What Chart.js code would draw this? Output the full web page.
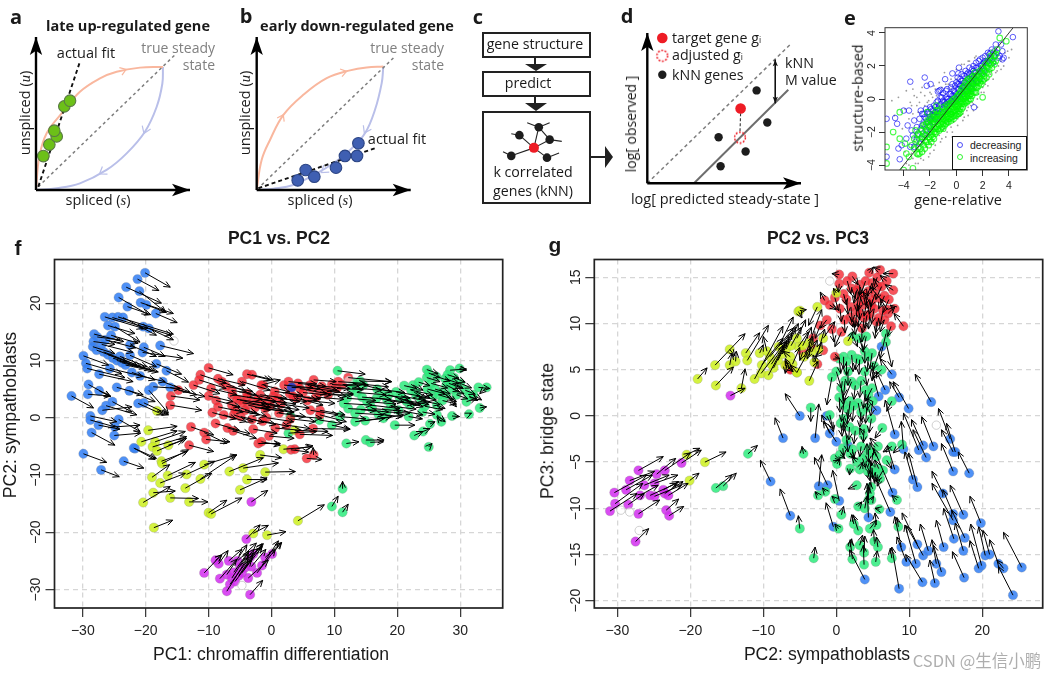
<!DOCTYPE html>
<html>
<head>
<meta charset="utf-8">
<title>RNA velocity figure</title>
<script src="https://cdn.jsdelivr.net/npm/chart.js@4"></script>
<style>
html, body { margin: 0; padding: 0; background: #fff; }
#page { position: relative; width: 1057px; height: 678px; overflow: hidden; }
#page canvas { position: absolute; }
.lbl { position: absolute; white-space: nowrap; transform-origin: center; line-height: 1; z-index: 5; }
.box { position: absolute; box-sizing: border-box; border: 2px solid #222; background: transparent; }
sub { font-size: 60%; vertical-align: -25%; line-height: 0; }
</style>
</head>
<body>
<div id="page"></div>
<script>
// panel a / b : phase portraits (steady state sits at 1,1)
const aUp = [[0,0],[.026,.271],[.084,.461],[.202,.623],[.346,.799],[.504,.908],[.635,.962],[.819,.995],[1,1]];
const aDown = [[1,1],[.995,.864],[.950,.675],[.858,.474],[.714,.298],[.556,.163],[.346,.054],[.163,.014],[0,0]];
const aCells = [[.058,.276],[.105,.369],[.163,.436],[.144,.482],[.223,.680],[.268,.726]];
const aFit = [[.018,.027],[.346,1.043]];
const aDiag = [[.018,.027],[1.094,1.098]];
const bUp = [[0,0],[.039,.243],[.105,.405],[.211,.608],[.368,.770],[.553,.905],[.737,.968],[.868,.992],[1,1]];
const bDown = [[1,1],[.987,.865],[.934,.649],[.855,.459],[.737,.324],[.605,.216],[.474,.135],[.289,.041],[.132,.011],[0,0]];
const bCells = [[.324,.078],[.387,.162],[.455,.108],[.626,.181],[.697,.276],[.792,.276],[.803,.378]];
const bFit = [[.013,.014],[.934,.338]];
const bDiag = [[.039,.041],[1.092,1.081]];

// panel c : kNN network
const cCentre = [[.474,.616]];
const cNeighbours = [[.327,.769],[.523,.865],[.633,.715],[.245,.520],[.606,.498]];
const cEdges = [
  [.474,.616,.327,.769],[.474,.616,.523,.865],[.474,.616,.633,.715],[.474,.616,.245,.520],[.474,.616,.606,.498],
  [.523,.865,.633,.715],[.327,.769,.245,.786],[.523,.865,.406,.918],[.523,.865,.633,.918],
  [.633,.715,.755,.694],[.245,.520,.162,.569],[.606,.498,.728,.555]
];

// panel d
const dKnn = [[1.093,.927],[1.2,.607],[.713,.46],[.983,.317],[.733,.17],[.15,1.083]];
const dTarget = [[.933,.747],[.15,1.45]];
const dAdjusted = [[.927,.457],[.15,1.273]];
const dDiag = [[0,0],[1.427,1.383]];
const dFit = [[.467,0],[1.41,.933]];
const dLink = [[.933,.7],[.927,.517]];

// panel e : x,y pairs
const eDecreasing = [-3.5,1.05,-2.4,1.3,-2.25,.8,-1.95,.9,-.85,1.2,3.2,4.1,4.3,3.75,.2,1.9,-.3,1.55,.15,1.55,1.35,-.5,-4,-.7,-3.6,-.7,-5.3,-1.2,-4.65,-1.15,-4.5,-1.5,-4.4,-3,-4.15,-2.8,-5.3,-3.5,-4.3,-3.65,-3.8,-2.4,-3.7,-1.6,-3.5,-2.9,-3.4,-1.9,-3.3,-2.2,-3.2,-1.3,-3.1,-2.6,-3,-1.7,-2.9,-2.1,-2.8,-1.2,-2.7,-.7,-2.7,-1.8,-2.6,-2.4,-2.5,-.9,-2.5,-1.5,-2.4,-1.1,-2.3,-.6,-2.3,-1.9,-2.2,-1.4,-2.1,-.8,-2.1,-1.1,-2,-.5,-2,-1.6,-1.9,-1.2,-1.8,-.7,-1.8,-1,-1.7,-.4,-1.7,-1.4,-1.6,-.8,-1.5,-.2,-1.5,-1.1,-1.4,.45,-1.4,-.6,-1.3,.5,-1.3,-.9,-1.2,-.3,-1.2,.55,-1.1,-.5,-1.1,.1,-1,-.8,-1,.35,-.9,-.2,-.9,-.6,-.8,.1,-.8,.5,-.7,-.4,-.7,.6,-.6,0,-.6,-.7,-.5,.3,-.5,-.3,-.4,.7,-.4,-.1,-.3,.2,-.3,.9,-.2,-.2,-.2,.5,-.1,.8,-.1,.1,0,1,0,.3,0,-.1,.1,.6,.1,1.3,.2,.2,.2,.9,.3,.5,.3,1.2,.4,.8,.4,1.5,.5,.3,.5,1.1,.6,1.4,.6,.7,.7,1,.7,1.7,.8,.5,.8,1.3,.9,1.6,.9,.9,1,1.2,1,1.9,1.1,.7,1.1,1.5,1.2,1.8,1.2,1,1.3,2,1.3,1.3,1.4,1.6,1.5,2.2,1.5,1.1,1.6,1.9,1.6,1.4,1.7,2.3,1.8,1.7,1.8,2.4,1.9,2,2,2.5,2,1.6,2.1,2.2,2.2,2.6,2.3,1.9,2.4,2.8,2.4,2.3,2.6,2.5,2.7,3,2.8,2.2,3,3.3,3.2,2.5,3.3,2.6,3.4,3.3,3.5,2.4,3.5,2.9,3.6,2.5,2.5,2.7,2.9,2.6];
const eDecreasingCore = [-3.2,-2.9,-3,-2.2,-2.8,-2.7,-2.6,-1.6,-2.6,-.9,-2.4,-2.2,-2.3,-1.2,-2.2,-2.1,-2.2,-.8,-2.1,-1.7,-2,-1.3,-2,-.9,-1.9,-.6,-1.8,-1.4,-1.7,-1,-1.6,-.5,-1.6,-1.2,-1.5,-.8,-1.4,-.1,-1.3,-.4,-1.2,-.8,-1.2,.1,-1,-.1,-.9,-.4,-.8,-.3,-.7,0,-.7,-.2,-.5,-.1,-.4,.3,-.3,-.2,-.2,.2,-.1,.4,0,0,.1,.1,.1,.9,.2,.6,.3,.1,.3,.8,.4,.4,.4,1.1,.5,.7,.6,.2,.6,1,.7,.5,.8,.8,.8,1.5,.9,.4,.9,1.2,1,.7,1,1.5,1.1,1.1,1.2,.6,1.2,1.4,1.3,.9,1.3,1.7,1.4,1.2,1.5,1.6,1.5,1.9,1.6,1.1,1.7,1.8,1.8,1.2,1.9,1.6,2,2.1,2.1,1.7,2.2,2.3,2.3,2.2,2.5,2.4,2.6,2.8,2.7,2.4,2.9,2.9,3.1,2.8];
const eIncreasing = [-3.3,-4.2,-4,-4.3,-5.3,-3.9,-5.3,-2.9,-4.8,-2,-4.3,-.8,2,.1,3.8,3.5,3.3,3.7,-2.9,-3.35,-3.4,-2.8,-3.2,-3,-3,-2.5,-2.9,-2.9,-2.8,-2.2,-2.7,-3,-2.7,-2.6,-2.6,-2.3,-2.6,-1.9,-2.5,-2.8,-2.5,-2.1,-2.4,-2.5,-2.4,-1.7,-2.3,-2.2,-2.3,-1.5,-2.2,-2.6,-2.2,-1.9,-2.1,-1.4,-2.1,-2.3,-2,-2,-2,-1.6,-1.9,-1.3,-1.9,-1.8,-1.9,-2.2,-1.8,-1.5,-1.8,-1.9,-1.7,-1.2,-1.7,-1.7,-1.7,-2,-1.6,-1.4,-1.6,-1.8,-1.5,-1,-1.5,-1.3,-1.5,-1.7,-1.4,-1.2,-1.4,-1.5,-1.4,-.9,-1.3,-1.3,-1.3,-1.6,-1.2,-1,-1.2,-1.2,-1.2,-1.5,-1.1,-.8,-1.1,-1.1,-1.1,-1.4,-1,-.9,-1,-1.2,-1,-1.5,-.9,-.7,-.9,-1,-.9,-1.3,-.8,-.8,-.8,-1.1,-.8,-1.3,-.7,-.5,-.7,-.9,-.7,-1.1,-.6,-.7,-.6,-1,-.6,-1.2,-.5,-.4,-.5,-.7,-.5,-.9,-.4,-.6,-.4,-.9,-.4,-1.1,-.3,-.3,-.3,-.6,-.3,-.8,-.2,-.5,-.2,-.7,-.2,-1,-.1,-.2,-.1,-.4,-.1,-.7,0,-.3,0,-.5,0,-.8,.1,-.1,.1,-.4,.1,-.6,.2,-.2,.2,-.4,.2,-.7,.3,0,.3,-.2,.3,-.5,.4,-.1,.4,-.3,.4,.2,.5,.1,.5,-.2,.5,.3,.6,0,.6,.2,.6,.5,.7,.1,.7,.4,.7,-.1,.8,.3,.8,.6,.8,.1,.9,.2,.9,.5,.9,.8,1,.4,1,.7,1,.2,1.1,.3,1.1,.6,1.1,.9,1.2,.5,1.2,.8,1.2,1.1,1.3,.4,1.3,.7,1.3,1,1.4,.8,1.4,1.2,1.5,.7,1.5,1,1.5,1.4,1.6,1,1.6,1.3,1.7,1.1,1.7,1.5,1.8,1.3,1.8,1.7,1.9,1.2,1.9,1.6,2,1.5,2,1.9,2.1,1.4,2.1,1.8,2.2,1.7,2.2,2.1,2.3,1.6,2.3,2,2.4,1.9,2.4,2.3,2.5,1.8,2.5,2.2,2.6,2.1,2.6,2.6,2.7,2.4,2.8,2.3,2.8,2.8,2.9,2.6,3,2.7,3.1,3,-3.6,-3.5,-3.8,-3.3,-3.9,-2.7,-4.3,-2.4,-3.1,-1.9,-2.2,-.8,-1.5,-.4];
const eIncreasingWide = [-3.2,-2.4,-3,-3.3,-2.9,-2.1,-2.8,-3.3,-2.6,-3.2,-2.5,-1.6,-2.4,-3,-2.3,-2.6,-2.2,-1.3,-2.1,-2.8,-2,-1.2,-2,-2.4,-1.9,-2.6,-1.8,-1.1,-1.8,-2.3,-1.7,-.9,-1.7,-2.4,-1.6,-2.1,-1.6,-1,-1.5,-2,-1.5,-.7,-1.4,-1.8,-1.3,-.7,-1.3,-1.9,-1.2,-1.8,-1.1,-1.7,-1,-.5,-1,-1.8,-.9,-1.6,-.8,-.4,-.8,-1.5,-.7,-1.4,-.6,-.3,-.6,-1.4,-.5,-1.2,-.4,-.2,-.4,-1.3,-.3,-1.1,-.3,-.1,-.2,-1.2,-.2,0,-.1,-1,0,.1,0,-1,.1,.2,.1,-.9,.2,.3,.2,-.9,.3,.4,.3,-.8,.4,.6,.4,-.6,.5,.7,.5,-.5,.6,.8,.6,-.3,.7,1,.7,-.2,.8,1.1,.8,-.2,.9,1.2,.9,-.1,1,1.1,1,0,1.1,1.3,1.1,0,1.2,.2,1.3,1.4,1.4,.4,1.4,1.6,1.5,.4,1.6,.7,1.7,.8,1.8,1,1.9,.9,2,1.1,2.1,1.2,2.3,1.3,2.5,1.5,2.7,1.9,2.9,2.1,3,2.3];
const eOther = [-4.9,-.1,-4.4,.1,-3.8,.5,-3.5,-.2,-3.3,.6,-3,.1,-2.7,.4,-2.4,.2,-2,.4,-1.7,.8,-1.3,1,-.9,1.6,-.4,1.2,-4.7,-1,-4.1,-1.8,-3.9,-.6,-3.6,-1.2,-3.3,-.9,-3,-.4,-2.8,-.2,-2.4,-.4,-2.1,-.1,-1.8,.1,-1.5,.2,-1.1,.7,-.6,.9,-3.9,-3.2,-3.6,-4,-3.3,-3.6,-3.1,-3.9,-2.7,-3.6,-2.4,-3.2,-2.2,-2.9,-2,-3.3,-1.8,-2.5,-1.6,-2.8,-1.3,-2.2,-1.1,-2.4,-.9,-1.8,-.7,-2,-.4,-1.7,-.2,-1.4,.1,-1.2,.3,-1,.6,-1.1,.8,-.7,1.1,-.4,1.3,-.3,1.6,0,1.9,.4,2.2,.9,2.4,1.2,2.7,1.7,2.9,2.1,3.2,2,3.6,2,3.9,2.9,1.5,2.6,.9,2.3,.4,2.1,0,1.8,2.3,1.1,2.6,1.5,3,1.6,3.4,1.8,4,2.5,4.2,3,-.2,-1,-.6,-1.5,-1,-1.9,-1.4,-2,-1.9,-2.7,-.3,-2,.5,-.9,.9,-.5,1.2,-.2,1.7,.3,2,.7,-3.4,-.4,-3.2,.2,-2.9,-.8,-2.6,.7,-2.2,-.2,-1.9,.3,-1.6,.6,-1.2,.3,-.8,.9,-.4,.6,0,1.2,.4,1.8,.6,2.1,1,2.3,1.4,2.5,-3.8,-3.9,-3.4,-3.3,-2.9,-3.9,-2.5,-3.7,-2.1,-3.5,-1.7,-3.1,-1.2,-2.6,-.8,-2.3,-.3,-2.3,.1,-1.6,.5,-1.3,.9,-1,1.3,-.7,1.6,-.5,2.1,.4,2.4,.8,2.8,1.2,3.1,1.7,3.4,2.3,3.7,2.8];

const eXTicks = [-4,-2,0,2,4];
const eYTicks = [-4,-2,0,2,4];

// panels f / g : arrow tail x, tail y, head x, head y
const fXTicks = [-30,-20,-10,0,10,20,30];
const fYTicks = [-30,-20,-10,0,10,20];
const fBlue = [[-20.1,25.3,-16.1,22.8],[-21.3,24.2,-17.9,22.2],[-23.1,22.8,-17.5,20],[-21,22.1,-16.8,18.4],[-24.3,21,-19.6,18],[-22.9,19.4,-19.2,18],[-20.8,20.1,-15.6,18.2],[-19.9,19.7,-16.7,18.4],[-18.4,18.2,-15,16.6],[-26.5,17.6,-20.4,15.6],[-25.3,17.5,-19.6,15.6],[-24.4,17.6,-15.6,14.6],[-23.6,17.5,-18.3,14.4],[-26,16.1,-21.7,14.7],[-24.9,15.9,-20.9,13.2],[-20.4,15.9,-15.9,14.4],[-19.5,15.6,-15.6,13.6],[-28.2,14.6,-23.5,13.3],[-27.7,14.1,-24.1,13.6],[-25.5,14.4,-21.2,13],[-28.3,13.3,-24.9,12.8],[-28.4,12.4,-24.9,11.2],[-22.5,12.7,-18.3,10.7],[-20.3,12.3,-16.9,10.7],[-17.7,12.6,-12.4,11.2],[-20.5,11.4,-14.1,10.4],[-29.9,10.8,-25.9,9.2],[-27.8,11.8,-23,9.8],[-26.7,11.5,-21.4,9.2],[-24.1,10.7,-19.8,8.9],[-22.5,10.9,-18.3,8.9],[-29.5,9.5,-23.8,7.7],[-29.3,8.6,-23.3,7],[-27.4,7.6,-22,6.3],[-25.7,8.6,-20.4,7.2],[-22.2,7.9,-18.5,6.6],[-20.9,7.3,-16.9,6.3],[-18.3,9.4,-14.3,7.6],[-16.7,8.2,-13.2,6.2],[-29.1,5.8,-25.6,3.7],[-27.4,4.7,-25.6,3.7],[-29.2,4.1,-25.6,3.8],[-24.6,5.3,-20.4,4],[-22.6,4.7,-18.5,2.8],[-17.3,6.3,-13,4.5],[-16.1,5.3,-11.9,4],[-18.8,5.4,-14.5,5.1],[-19.5,4.8,-16.4,.8],[-31.8,3.8,-28.3,1.7],[-21.2,2.5,-17.2,.5],[-20.3,2.6,-16.4,.6],[-25.3,2.8,-22.2,1],[-26.3,2.1,-21.4,.5],[-26.9,1.3,-22.2,1.9],[-28.8,.3,-24.6,-.7],[-28.8,-.4,-24.9,-1.6],[-27.5,-1.3,-24.1,-2],[-24.3,-.3,-20.9,-2.4],[-24.9,-1.6,-20.9,-1.3],[-28.6,-2.6,-24.9,-4.8],[-25,-3.1,-20.8,-2.7],[-21.7,-5.4,-18.3,-7.1],[-29.9,-6.3,-26.2,-7.8],[-27.1,-9.1,-24.2,-10.3],[-23.5,-7.6,-20.3,-8.8],[-21.9,-5.3,-18.5,-7.3]];
const fBlueCore = [[-26,11,-20.8,9],[-25.2,10.4,-20,8.6],[-24.6,10,-19.2,8.4],[-23.8,9.6,-18.6,8.2],[-23.2,9.2,-18,8],[-27,12.8,-22,11.4],[-26.4,13.6,-21.6,12.2]];
const fYellow = [[-18.2,1.2,-16.4,.5],[-19.6,-2.2,-15,-1.5],[-20.7,-4.2,-15,-2.3],[-18.5,-4.2,-13.7,-2.4],[-18.9,-5.1,-13.5,-3.3],[-16.4,-4.8,-14,-3.9],[-18.2,-5.8,-13.5,-3.6],[-17.5,-7.6,-13.4,-5.9],[-17.4,-8,-13.2,-5.6],[-10.7,-8.2,-5.5,-6.5],[-16.5,-10.1,-12.1,-7.8],[-19,-10.4,-16.2,-8.2],[-17.7,-11.4,-13.7,-9.7],[-13.5,-9.9,-9,-7.6],[-11.3,-10.7,-5.6,-6.5],[-13.7,-12.3,-9.5,-9.7],[-6.7,-9.4,-1.3,-7],[-4.5,-8.8,1.1,-7.9],[-1,-9.5,3.8,-9.4],[-3.9,-10.8,-.7,-10.8],[-5,-12.6,-.7,-10.5],[-18.8,-13.1,-15.3,-12.8],[-20.4,-14.8,-16.1,-12],[-16.1,-14,-11.6,-14.1],[-13.1,-14.7,-10.1,-14.7],[-10,-16.6,-7.1,-14.4],[-9.6,-16.8,-4.7,-14],[-18.7,-19.2,-15.7,-17.9],[4.2,-18,8.4,-15.2],[-1.8,-6.5,1.6,-7],[-2.9,-20.2,-.5,-18.8],[-.7,-20.5,2.3,-19.9],[1.9,-5.5,6.4,-5.1],[3.7,-2.2,9,-2.4]];
const fPurple = [[-10.7,-27.1,-7.9,-23.9],[-8.4,-25.5,-6.9,-23.2],[-8.9,-24.9,-7.9,-24],[-3.2,-14.7,-.6,-12.7],[-4,-21.2,-1.8,-18.7],[-3.4,-30.9,-1.4,-28.4],[-7.1,-30.3,-3.7,-24.3],[-8.2,-28.1,-5.5,-24.7],[-6.8,-25,-4.7,-23],[-7.1,-27.4,-3.9,-22.2],[-6.6,-29.1,-2.9,-23.6],[-5.4,-25,-2.4,-21.9],[-4.2,-26.2,-1.5,-22],[-3.7,-28,-.5,-24.9],[-2.3,-27.1,.6,-23],[-1.5,-25.8,1.1,-21.5],[-2.9,-23.8,-1.3,-22],[-1,-24.4,1.6,-21.8],[.1,-23.8,1.6,-21.8],[-3.4,-24.4,-1.8,-22.7],[-4.7,-27.1,-1.5,-22.5],[-6.3,-28,-3.7,-23.6],[-6,-27,-3.6,-23.3],[-5.2,-27.6,-3,-24],[-5.8,-28.6,-3.2,-24.8],[-5,-26,-2.8,-23],[-3.2,-26,-.9,-23]];
const fRed = [[-10,8.7,-6.1,7.5],[-11.3,7.5,-7.2,6],[-11.5,6.6,-7.2,5.1],[-12.4,5.7,-8.2,4.2],[-14.8,4.8,-10.6,3.7],[-16,3.8,-11.4,3.1],[-16.1,2.2,-11.1,1.3],[-10,3.8,-6.1,2.8],[-9.6,5.1,-5.5,4],[-7.9,6.3,-4,4.5],[-8.8,3,-5,1.9],[-8.5,1.9,-4.5,1],[-6.3,4.8,-2.4,4],[-6.3,2.2,-2.4,.8],[-4.7,6.3,-.2,4.8],[-3.9,7.6,-.2,6.6],[-3.1,7.5,.3,6.6],[-3.9,4.2,-.2,3.4],[-5,3.1,-.8,1.9],[-3.7,2.2,-.2,1.3],[-7.6,.5,-4,-.7],[-6,.5,-2.9,-.7],[-4.2,1.3,-.8,.2],[-1.3,5.7,2.9,4.5],[-12.8,-1.6,-9.2,-3],[-10.7,-2.6,-7.1,-4.5],[-10.4,-3.8,-6.6,-4.2],[-6.1,-2.3,-2.4,-3.6],[-13.1,-4.8,-9.2,-5.9],[-2.1,-4.5,1.4,-4.5],[5.6,-7.1,8,-7.3],[6.7,-6.5,6.6,-5.2],[3.1,-5.6,5.9,-6],[-1.6,5.7,1.4,6.6],[-1.8,4,2.4,3.4],[.3,3.7,4.5,2.8],[-.8,1.9,3.5,1],[6.7,6.6,10.3,6.3],[12.2,7,19.1,6.3],[6.1,5.7,10.4,4.8],[4.5,5.1,8.8,4.2],[7.7,4.5,11.9,3.7],[9,4,13,4],[11.3,5.8,15.4,5.7],[2.9,4.2,7.2,3.1],[4,3.4,8.2,2.2],[6.2,1.3,10.6,.5],[7.7,1.3,11.7,.5],[2.4,-1.3,6.1,-1.9],[-.8,0,3.5,-.7],[4.5,-2.9,9.7,-3.1],[7.7,.5,11.9,-.7],[6.6,-1.9,12.5,-2],[-1.6,-4.2,1.4,-4.8],[3.7,-5.5,6.6,-4.9]];
const fRedCore = [[-8.5,6.8,-4.2,5.7],[-7.2,5.5,-3,4.6],[-6.2,4,-1.5,3.2],[-5.5,3.2,-.8,2.5],[-4.6,2.6,-.2,1.9],[-3.9,3.6,.8,2.8],[-3,2.9,1.3,2.1],[-2.6,1.8,1.9,1.1],[-2.1,3.3,2.4,2.6],[-1.6,2.5,3,1.7],[-1,1.6,3.6,.9],[-.6,3,3.9,2.4],[-.2,2.1,4.4,1.4],[.5,4.6,5,3.9],[1,3.4,5.6,2.8],[1.5,2.4,6,1.7],[2,5.7,6.6,5.2],[2.7,6.3,7.2,5.9],[3.4,3.8,7.8,3.3],[4.2,6,8.6,5.5],[5,4.4,9.4,3.9],[5.7,3,10.1,2.5],[6.4,5.1,10.8,4.6],[7.1,3.6,11.5,3.2],[8,5.5,12.5,5.1],[8.8,4.6,13,4.2],[9.6,5.8,13.9,5.5],[10.4,5.1,14.6,4.9],[-5.8,1.4,-1.9,.5],[-4.9,.2,-1.2,-.8],[-3.1,-.3,.7,-1.2],[-1.4,-.6,2.7,-1.5],[.6,-1.8,4.7,-2.2],[1.2,.8,5.4,.2],[3,-.2,7,-.7],[-8.9,-1,-5.1,-2.2],[-7,-1.8,-3.4,-2.8],[-2.9,-2,.9,-2.7],[-.4,-3.2,3.6,-3.6],[10.6,6.3,14.9,6],[-9.4,.9,-5.6,-.2]];
const fDarkBlue = [[3.2,5.3,7.7,5.1]];
const fGreen = [[10.5,8.2,14.9,7.6],[14.1,6.4,19.1,6.3],[13,6,18.6,5.4],[14.6,5.7,19.1,4.5],[12.2,1.6,16.7,1.3],[13.3,.8,17.8,.5],[13.3,-.7,18,-.1],[14.9,-.5,19.1,.2],[19.6,-1.3,22.8,-1.3],[3,.3,8,-.1],[7.6,-.4,11.2,-1],[9.6,-1.3,12.5,-2],[2.7,-2.7,7.2,-2.4],[11.9,-4.5,13.9,-4.2],[15,-3.9,17.9,-3.9],[15.7,-4.3,17.8,-4.2],[22.7,-3.1,24.1,-2.4],[24.1,-2.4,25.2,-1.9],[25,-5.1,25.5,-4.5],[25.2,-1.1,26,-.7],[24.7,8.4,26.5,7.7],[28.4,8.3,31,8.5],[29.9,8.6,31,8.3],[24.7,7,26.8,6.3],[21.1,5.6,23.1,5.1],[22.5,5.7,24.1,4.8],[32.9,5.3,34.7,5.1],[34.2,5.3,33.1,4.2],[33.1,1.7,34.2,1.9],[31.4,.6,31.8,.8],[28.7,.3,29.9,.2],[26.3,2.2,27.6,1.6],[26.3,.5,27.6,-.7],[27,-.7,26.3,.2],[31,2.8,32.6,3.4],[32.1,4,33.4,3.1],[27.8,5.7,29.9,4.5],[28.9,6,30.5,5.1],[27,4.5,29.4,2.8],[27.8,4,29.4,1.9],[25.7,4,23.4,3.4],[23,4.5,25.2,3.4],[21.5,2.8,24.1,1.9],[20.4,3.4,23.6,2.2],[18.6,4,22,2.8],[16.7,3.4,21,2.8],[15.7,2.2,20.4,1.6],[18.3,1,22,.8],[20.2,1.3,24.1,.5],[17.8,-.1,21,.5],[22,2.2,25.2,2.8],[11.3,-12.4,11.3,-11.1],[9.6,-15.5,10.6,-13.7],[11.3,-16.5,12.2,-15.1]];
const fGreenCore = [[12.8,5.2,17.5,4.8],[13.6,4.4,18.2,4],[14.4,3.6,19,3.2],[12,3.4,16.6,3],[11.5,2.5,16,2.2],[15.2,2.8,19.8,2.4],[16,1.6,20.5,1.2],[16.8,5,21.2,4.4],[17.6,4,22,3.4],[18.4,3,22.6,2.4],[19,2,23,1.5],[19.8,4.5,23.6,3.8],[20.6,3.8,24.4,3],[21.4,3,25,2.3],[22.2,4.8,25.6,4],[23,3.9,26.2,3.1],[23.8,3,26.8,2.3],[24.4,2,27.2,1.4],[24.8,5,27.6,4.2],[25.4,6,28,5.2],[26,5,28.4,4.2],[26.6,4,29,3.2],[27.2,3,29.4,2.4],[27.6,6.8,29.8,6],[28.2,6,30.2,5.2],[28.8,5,30.6,4.2],[29.4,4,31.2,3.3],[26.2,7.2,28.4,6.4],[28,7.5,29.8,6.9],[29,7,30.8,6.2],[30,6,31.8,5.2],[30.8,4.8,32.4,4.1],[31.4,3.8,32.8,3],[25,7.8,26.8,7],[23.4,6.2,25.2,5.6],[24,1,26,.6],[21.8,.2,24,-.2],[17,.6,20.8,.2],[14.2,1.4,18.6,1],[10.9,.2,15,-.2]];
const fOpen = [[-15.5,13.4],[-4.7,-29.3],[12.3,6.5]];

const gXTicks = [-30,-20,-10,0,10,20];
const gYTicks = [-20,-15,-10,-5,0,5,10,15];
const gYellow = [[-19,4,-17.7,5.2],[-16.6,5.5,-12.5,8.9],[-14.6,5.5,-14.3,6.8],[-14.6,7.2,-13.9,6.5],[-16.5,3.3,-14.1,5.3],[-13.8,5.9,-13.7,7],[-13,3,-12.5,5.1],[-12.4,6.8,-10.5,9],[-12.2,6,-9.3,9.8],[-11.2,4,-7.3,9.7],[-10.2,5.5,-7.3,8.4],[-10.3,4.6,-7,8],[-9.3,4.4,-6.8,8.2],[-9.1,6.4,-5.9,9.5],[-7.9,7.5,-5.9,10.7],[-6.3,6.4,-7.3,7],[-7,5.5,-5.9,4.8],[-5.4,4.7,-6.3,5.5],[-5.2,11.3,-4.7,10.6],[-10.5,6.8,-10,7.7],[-9.5,7,-10,8.6],[-5,11.4,-4.1,11.5],[-2.6,11.8,-3.8,9.8],[-3.7,3.8,-2.5,5.9],[-5.4,4.7,-3.6,7.3],[-5.2,7.5,-3.8,9.1],[-3.7,7.9,-2,11.5],[-1.8,8.4,-.2,10.2],[1.6,8.1,2.3,9.1],[0,13.3,-.4,13.8],[-18,-5,-15.1,-3.9],[-20.1,-7,-18.8,-6.2],[-20.5,-4.2,-18.7,-3.5]];
const gYellowCore = [[-8.6,5.2,-6.5,8.6],[-8,6,-6.1,9],[-7.4,6.7,-5.6,9.6],[-6.9,7.2,-5.2,10],[-8.9,5.6,-7.2,7.6],[-6.2,7.6,-4.8,9.6],[-5.4,8.4,-4.2,10.4],[-4.6,7.6,-3.4,9.6],[-4.4,6.4,-3.2,8.6],[-3,5.8,-2,8],[-2.4,7.2,-1.6,9.4],[-6,5.6,-5,7.4],[-3.4,6.9,-2.6,8.2]];
const gPurple = [[-14.5,2.2,-12.5,3],[-27.5,-13.6,-25.7,-12.2],[-31,-10.3,-27.3,-8.4],[-30.3,-9.5,-26.5,-7.3],[-30.4,-8.3,-26,-6.4],[-27.1,-5.9,-23.7,-4.4],[-24.6,-6.3,-22,-4.6],[-23.5,-5.9,-20,-4],[-21.2,-5.1,-18.5,-3.7],[-28.3,-7,-24.9,-6],[-28.8,-8,-25.2,-6.4],[-26.3,-7.5,-22.9,-6.4],[-24.9,-7.3,-21.7,-6.4],[-23.5,-8.4,-21,-7.1],[-23,-8.6,-20.3,-7.3],[-25.5,-8.6,-21.9,-7.3],[-24.9,-8.7,-21.2,-7.5],[-26.9,-8.6,-24.4,-7.5],[-28.5,-9.6,-26.3,-8.4],[-27.1,-10.6,-24.2,-9.1],[-23.3,-10.2,-21.6,-9],[-22.9,-10.8,-20.9,-9.8],[-23.7,-8,-21.6,-7.1]];
const gBlue = [[-9,-7.1,-10.4,-4.8],[-6.3,-10.8,-7.7,-7.9],[-2.4,-7.6,-2,-4.2],[-1.2,-7.5,-3,-4.5],[.4,-9.2,-.5,-5.9],[-.4,-12,-1.4,-9.4],[3.9,-17.7,1.8,-14.5],[8.6,-18.7,7.6,-14.2],[9.6,-15.8,8.3,-13.1],[8.9,-14.2,8,-10.9],[10.9,-16,9.4,-11.8],[11.8,-18,9.5,-15],[11.1,-13.9,9,-10.5],[11.9,-15.1,9.6,-11.9],[12.6,-14.6,11.5,-11.7],[13.5,-18.1,12.8,-15.6],[13.7,-16,13.1,-13.4],[14.4,-16.9,13.3,-14],[14.7,-14.2,13.7,-11.3],[17.5,-17.5,15.9,-14.7],[17.4,-14.6,16.3,-11.6],[16.1,-13.3,14.7,-10],[17.6,-13.2,15.8,-10.2],[16,-11.3,13.1,-7.3],[16,-10.6,14.6,-8],[17.4,-10.7,15.6,-7.5],[19.8,-11.6,18.3,-8.7],[19.5,-16.5,18.3,-13.5],[19.9,-16.2,18.4,-11.7],[20.4,-15.1,19.5,-12],[21,-15,20.1,-12.4],[22.2,-16,21,-13.4],[22.9,-16.5,22,-15.6],[24.2,-19.4,22.2,-16.3],[25.4,-16.4,22.9,-12.6],[14.6,-8.4,13.1,-6],[10.5,-6.9,9.4,-3.9],[11.1,-7.7,9.9,-4],[8,-5.8,7,-3.2],[7.7,-8.3,5.1,-3.5],[7.4,-10.4,5.3,-6.6],[16,-6,14.4,-3],[18.2,-6.2,16.7,-3.9],[12.3,-4.5,10.5,-1.5],[16,-3.9,14.4,-1.5],[4.4,-11,4.2,-7.3],[13,1.5,10.8,4.5],[-5,0,-7,2.4],[-2.9,-2.4,-2.4,1.3],[8,-2,6.7,1.7],[9.9,.8,7.8,3.7],[7.6,4.5,6,6.2],[6.7,2.8,5.5,4.8],[8.6,2,7.3,3.7],[5.8,2.1,4.8,5.1],[15.6,-2.5,14,.8],[16.3,-3.9,15.1,-.8],[13.3,-3.3,11.7,-.1],[11.9,-3.2,10.3,-.4],[11.3,-3.7,9.2,.3],[9.2,-3.6,8.9,-.6],[5.5,.6,4.1,1.9],[-.9,-1.9,-2,.1],[0,-2.8,-1.8,-.6],[1.6,-3.2,1,-.6],[-1.3,0,-.4,-1.4],[-7.3,-2.4,-8.4,-.2],[6.2,7.5,5,5]];
const gGreen = [[-16.5,-7.8,-14.3,-6.4],[-15.5,-7.6,-13.7,-6.2],[-12.1,-4.1,-10.8,-3.2],[-5,-12.2,-5.2,-10.8],[-3.1,-15.4,-2.9,-14.2],[-4.5,-4.1,-4.7,-3.3],[-3.5,.9,-3.5,-.6],[6.8,8.9,6,6.2],[6.8,8,7.6,5.3],[2.3,8.6,2.9,7.5],[3.2,8.4,3.7,6.9],[4.1,8.6,3.7,7.1],[3.9,7,3.9,5.7],[4.9,6.8,4.6,5.1],[2.1,6.6,2.3,4.8],[1,6.4,1,5.1],[2.8,6.2,2.6,5],[0,4.8,.7,3],[1.6,4.8,1.6,3.3],[3.9,4.8,4.2,3.3],[6.2,5,5,4.1],[-.6,4.2,-1.3,1.2],[2.1,3.7,1,1.6],[.7,3,1,1.2],[4.9,3,4,1.6],[4,2.8,3.7,.8],[7.6,1.6,6.9,.5],[1.9,1.6,1.6,-.3],[1,1.2,.7,-.6],[3,1.4,3.5,-.6],[-.9,.1,-.4,-1.7],[1,-.3,1,-1.7],[6.3,-1.3,5.3,-2.4],[3.7,-2.1,3.2,-1.3],[1.4,-2.6,1.6,-3.9],[5.7,-3.3,4.6,-2.4],[7.6,-3.3,6.4,-3.9],[9,-3.1,7.8,-4],[-2.5,-8.6,-2.9,-8.2],[-1.5,-8.2,-1.9,-7.8],[-.2,-9,-.6,-8.7],[.3,-12.2,-.2,-11.7],[.7,-10.7,1,-9.8],[3,-12.4,2.3,-10.7],[2.4,-11.7,2.1,-10.7],[1.9,-14.2,2.1,-13.3],[2.2,-15.5,1.9,-13.4],[3.8,-16.1,3.7,-14],[3.2,-14,3.6,-12.9],[3.8,-14.8,3.9,-13],[5.4,-15.8,5.6,-14.6],[5.2,-13.6,5.1,-12.3],[5.7,-14.2,5.5,-13.1],[4.6,-12.2,5.5,-11.3],[5.5,-11.8,5.3,-10.5],[5.9,-10.1,5.3,-10],[4.4,-9.1,4.4,-7.7],[4.8,-9.1,5.1,-8.7],[3,-9.8,3.5,-9.3],[3.9,-10,4.2,-8.7],[7.6,-15.4,7.4,-14.3],[8.5,-12,8.3,-11],[8.3,-9.1,7.6,-8.6],[4.8,-7.7,4.6,-5.9],[2.8,-7.5,1.6,-7.9],[1.9,-5.7,1.8,-6.4],[-.2,-4.6,.5,-4.8],[.5,-4.2,1.2,-4.6],[1.9,-4.1,2.6,-4.6],[2.8,-5,2.1,-4.4],[5.5,-4.4,4.6,-2.9],[4.8,-6.2,4.6,-4.8],[5.8,-5.7,5.3,-4.8],[6.4,-5.9,5.5,-7.1],[6.9,-4.8,7.6,-5.7],[4.2,-4.2,4.2,-3]];
const gGreenCore = [[.4,6.2,.6,4.6],[1.4,5.9,1.4,4.4],[3.2,6.1,3.1,4.5],[4.4,6.4,4.2,4.8],[5.2,5.4,4.9,3.8],[1.2,3.8,1,2.2],[2.6,3.3,2.4,1.8],[3.4,3.8,3.2,2],[4.4,2.3,4.2,.6],[5,1.6,4.7,0],[.4,2,.5,.4],[1.6,.7,1.5,-.9],[2.4,1.1,2.2,-.6],[3.4,.4,3.2,-1.2],[4.2,.9,4,-.8],[4.8,-.3,4.5,-1.8],[.6,-.8,.8,-2.2],[1.8,-1.2,1.7,-2.6],[2.6,-1.6,2.4,-3],[3.8,-1.4,3.7,-2.9],[.9,-3.5,1,-4.4],[2.2,-3.6,2.4,-4.6],[3.4,-3.3,3.2,-4.4],[4.4,-3.6,4.4,-5],[5,-4,4.8,-5.4],[3.6,-4.6,4,-5.6],[4.1,-5.2,4.6,-6.2],[4.9,-5.6,5,-6.8],[5.4,-6.1,5.2,-7.2],[4.3,-6,4.6,-7],[.1,-5.2,.5,-4.6],[3.2,-5.8,3.6,-5],[6,-6.8,5.6,-7.6],[4.6,-8.4,4.6,-7.2]];
const gRed = [[9.2,9.7,7.9,11.1],[7.8,15.4,6.4,15.4],[4.5,15.5,5.1,16.1],[6,15.8,5.1,16.1],[.4,15.3,-.6,15.4],[2.2,15.1,3,14.2],[.4,14.3,.3,13.4],[-1.6,12.5,-2.2,13.4],[7.8,13.6,6.7,14.2],[8,11.6,7.4,12],[7.1,11.1,8,11.8],[6,12.7,4.6,14],[2.1,13.8,2.6,12.7],[3.2,14.2,3.2,13.1],[5.7,14,5.1,14.9],[6.9,14.6,6,15.2],[4.8,12,3.7,13.4],[3.7,12,3,13.4],[3,12.9,2.8,11.3],[1.9,10.7,2.3,9.6],[.5,11.6,.7,10.2],[-.9,12,0,11.5],[.7,9.1,-.2,7.5],[-1.3,10.4,-2.2,9.5],[2.8,11.3,2.6,9.6],[4.2,10.9,3.9,9.5],[5.5,10.2,5.3,8.4],[6.6,10.4,6,9.1],[3.9,13.1,4.4,11.6],[7,11.5,6,12.7],[3.5,9.5,3.5,8],[-1.8,7.1,-2.9,6.4],[-.2,6.4,.5,6.2],[-6.3,5.1,-7,5.9],[-2.2,9.8,-2.9,8.4],[-6.8,5.5,-7,4.6],[-6.3,5,-7,6.2]];
const gRedCore = [[1.5,14.6,2,13.2],[2.8,13.6,2.4,12.2],[3.4,13,3,11.4],[4,14.6,3.4,13.2],[4.4,13.5,4,12],[4.9,14.4,4.2,13],[5.3,13.2,4.7,11.8],[5.6,15,5,13.6],[6.2,14,5.4,12.6],[6.6,13,5.8,11.6],[7.2,12.6,6.4,11.2],[1.4,12.6,1.6,11],[2,11.8,2.2,10.2],[3.2,11.1,3,9.6],[3.8,10.6,3.6,9],[4.6,11,4.4,9.4],[5.2,11.6,4.8,10],[5.8,10.6,5.4,9],[6.4,11.4,6,9.8],[1,13.2,1.4,12],[-.2,12.8,.3,11.4],[1.1,10.4,1.2,9],[2.4,10.2,2.6,8.8],[7.5,9.7,7,8.6],[3,12,3.2,10.4],[4.2,12.4,3.8,10.8],[5,12.6,4.5,11],[-.6,9.4,-.3,8],[-3.2,8.4,-3.6,7.2],[-4.6,6.9,-5,6],[-2.6,5.6,-3.2,6.6],[-3.4,7.4,-4,6.2]];
const gOpen = [[-27,-12.4],[-28.3,-10.4],[-29.5,-10.2],[13.7,-1],[-.9,14.6]];

const page = document.getElementById('page');

function label(html, x, y, size, opts) {
  const o = opts || {};
  const el = document.createElement('div');
  el.className = 'lbl';
  el.innerHTML = html;
  el.style.left = x + 'px';
  el.style.top = y + 'px';
  el.style.fontSize = size + 'px';
  el.style.fontFamily = o.font || '"Open Sans", sans-serif';
  el.style.fontWeight = o.bold ? '700' : '400';
  el.style.color = o.color || '#1a1a1a';
  const tx = o.align === 'right' ? '-100%' : (o.align === 'left' ? '0' : '-50%');
  el.style.transform = 'translate(' + tx + ',-50%)' + (o.rot ? ' rotate(' + o.rot + 'deg)' : '');
  page.appendChild(el);
}

function addCanvas(left, top, w, h) {
  const c = document.createElement('canvas');
  c.width = w; c.height = h;
  c.style.left = left + 'px';
  c.style.top = top + 'px';
  c.style.width = w + 'px';
  c.style.height = h + 'px';
  page.appendChild(c);
  return c;
}

function toXY(rows) {
  return rows.map(r => ({ x: r[0], y: r[1] }));
}
function pairsToXY(flat) {
  const out = [];
  for (let i = 0; i < flat.length; i += 2) out.push({ x: flat[i], y: flat[i + 1] });
  return out;
}

function drawArrow(ctx, x0, y0, x1, y1, st) {
  const a = Math.atan2(y1 - y0, x1 - x0);
  ctx.save();
  ctx.strokeStyle = st.color;
  ctx.fillStyle = st.color;
  ctx.lineWidth = st.width;
  if (!st.noShaft) {
    ctx.beginPath();
    ctx.moveTo(x0, y0);
    ctx.lineTo(x1, y1);
    ctx.stroke();
  }
  const hx0 = x1 - st.head * Math.cos(a - st.spread), hy0 = y1 - st.head * Math.sin(a - st.spread);
  const hx1 = x1 - st.head * Math.cos(a + st.spread), hy1 = y1 - st.head * Math.sin(a + st.spread);
  ctx.beginPath();
  ctx.moveTo(hx0, hy0);
  ctx.lineTo(x1, y1);
  ctx.lineTo(hx1, hy1);
  if (st.solid) {
    ctx.lineTo(x1 - st.head * .72 * Math.cos(a), y1 - st.head * .72 * Math.sin(a));
    ctx.closePath();
    ctx.fill();
  } else {
    ctx.stroke();
  }
  ctx.restore();
}

// draws dataset.arrows through the chart's own scales
const arrowPlugin = {
  id: 'arrowPlugin',
  afterDatasetsDraw(chart) {
    const x = chart.scales.x, y = chart.scales.y;
    chart.data.datasets.forEach(ds => {
      if (!ds.arrows) return;
      ds.arrows.forEach(a => {
        drawArrow(chart.ctx, x.getPixelForValue(a[0]), y.getPixelForValue(a[1]),
          x.getPixelForValue(a[2]), y.getPixelForValue(a[3]), ds.arrowStyle);
      });
    });
  }
};

const framePlugin = {
  id: 'framePlugin',
  afterDraw(chart, args, opts) {
    const a = chart.chartArea;
    chart.ctx.save();
    chart.ctx.strokeStyle = opts.color || '#222';
    chart.ctx.lineWidth = opts.width || 1.6;
    chart.ctx.strokeRect(a.left, a.top, a.right - a.left, a.bottom - a.top);
    chart.ctx.restore();
  }
};

const thinHead = { color: '#000', width: 1, head: 7, spread: .42 };
const axisHead = { color: '#000', width: 2.4, head: 19, spread: .33, solid: true };

function curve(rows, color, width, dash) {
  return { data: toXY(rows), showLine: true, pointRadius: 0, borderColor: color, borderWidth: width, borderDash: dash || [], tension: .4, clip: false };
}
function straight(rows, color, width, dash) {
  return { data: toXY(rows), showLine: true, pointRadius: 0, borderColor: color, borderWidth: width, borderDash: dash || [], tension: 0, clip: false };
}
function dots(rows, fill, line, r, bw) {
  return { data: toXY(rows), showLine: false, pointRadius: r, backgroundColor: fill, borderColor: line, borderWidth: bw, clip: false };
}

function hiddenChart(canvas, pad, xr, yr, datasets) {
  return new Chart(canvas, {
    type: 'scatter',
    data: { datasets: datasets },
    plugins: [arrowPlugin],
    options: {
      responsive: false, animation: false, events: [],
      layout: { padding: pad },
      plugins: { legend: { display: false }, tooltip: { enabled: false } },
      scales: {
        x: { type: 'linear', display: false, min: xr[0], max: xr[1] },
        y: { type: 'linear', display: false, min: yr[0], max: yr[1] }
      }
    }
  });
}

function phaseChart(left, pad, xMax, yMax, w, up, down, cells, fill, edge, fit, diag, chevrons) {
  const c = addCanvas(left, 27, w, 173);
  return hiddenChart(c, pad, [0, xMax], [0, yMax], [
    dots(cells, fill, edge, 5.8, 1.1),
    straight(fit, '#111', 1.9, [4, 3]),
    straight(diag, '#7d7d7d', 1.5, [3, 3]),
    { data: [], arrows: [[0, 0, 0, yMax]], arrowStyle: axisHead },
    { data: [], arrows: [[0, 0, xMax, 0]], arrowStyle: axisHead },
    Object.assign(curve(up, '#f9b79e', 2), { arrows: chevrons.up, arrowStyle: { color: '#f9b79e', width: 1.2, head: 7, spread: .6, noShaft: true } }),
    Object.assign(curve(down, '#b9bfe9', 2), { arrows: chevrons.down, arrowStyle: { color: '#b9bfe9', width: 1.2, head: 8, spread: .6, noShaft: true } })
  ]);
}

phaseChart(26, { left: 10, right: 10, top: 10, bottom: 10 }, 1.213, 1.244, 174, aUp, aDown, aCells, '#6cc018', '#5a7a45', aFit, aDiag,
  { up: [[.6,.94,.71,.98]], down: [[.89,.56,.85,.46],[.6,.2,.5,.13]] });
phaseChart(246, { left: 10.7, right: 10.3, top: 10, bottom: 10 }, 1.216, 1.238, 175, bUp, bDown, bCells, '#3f5fb2', '#2c4585', bFit, bDiag,
  { up: [[.18,.55,.21,.61],[.6,.93,.71,.96]], down: [[.88,.52,.85,.46],[.56,.18,.51,.14]] });

// c : flow boxes and network
[[482,32,109,26],[482,71,109,26],[482,111,109,93]].forEach(b => {
  const d = document.createElement('div');
  d.className = 'box';
  d.style.left = b[0] + 'px'; d.style.top = b[1] + 'px';
  d.style.width = b[2] + 'px'; d.style.height = b[3] + 'px';
  page.appendChild(d);
});
const flow = document.createElementNS('http://www.w3.org/2000/svg', 'svg');
flow.setAttribute('width', 1057); flow.setAttribute('height', 678);
flow.style.position = 'absolute'; flow.style.left = 0; flow.style.top = 0;
flow.innerHTML =
  '<path d="M535 58V66M535 97V105M591 157H606" stroke="#222" stroke-width="2" fill="none"/>' +
  '<path d="M525 64H547L536 71ZM525 103H547L536 111ZM605 146L613 157L605 168Z" fill="#222"/>';
page.appendChild(flow);

const cLinks = cEdges.map(e => straight([[e[0], e[1]], [e[2], e[3]]], '#222', 1.1));
hiddenChart(addCanvas(482, 111, 109, 93), 0, [0, 1], [0, 1],
  [dots(cCentre, '#ee1c25', '#ee1c25', 5, 0), dots(cNeighbours, '#1d1d1d', '#1d1d1d', 4.3, 0)].concat(cLinks));

// d : red dashed ring as a point image
function dashedRing() {
  const r = document.createElement('canvas');
  r.width = 14; r.height = 14;
  const g = r.getContext('2d');
  g.strokeStyle = '#ee1c25';
  g.lineWidth = 1.5;
  g.setLineDash([1.8, 1.6]);
  g.beginPath();
  g.arc(7, 7, 5.4, 0, Math.PI * 2);
  g.stroke();
  return r;
}
hiddenChart(addCanvas(637, 23, 174, 170), { left: 10.3, right: 10, top: 10, bottom: 9.7 }, [0, 1.537], [0, 1.5], [
  dots(dTarget, '#ee1c25', '#ee1c25', 5.3, 0),
  Object.assign(dots(dAdjusted, '#fff', '#ee1c25', 6, 1), { pointStyle: dashedRing() }),
  dots(dKnn, '#1d1d1d', '#1d1d1d', 4.2, 0),
  straight(dLink, '#333', 1.1, [3, 2]),
  straight(dFit, '#6e6e6e', 2),
  straight(dDiag, '#7d7d7d', 1.5, [3.5, 3]),
  { data: [], arrows: [[0, 0, 0, 1.5]], arrowStyle: axisHead },
  { data: [], arrows: [[0, 0, 1.537, 0]], arrowStyle: axisHead },
  { data: [], arrows: [[1.28, 1.233, 1.28, .8], [1.28, .8, 1.28, 1.233]], arrowStyle: { color: '#111', width: 1.3, head: 7, spread: .38, solid: true } }
]);

function fixedTicks(list) {
  return s => { s.ticks = list.map(v => ({ value: v })); };
}
const minusFmt = v => String(v).replace('-', '\u2212');

function plotOptions(cfg) {
  const tickFont = { family: '"Liberation Sans", Arial, sans-serif', size: cfg.tickSize };
  const grid = cfg.grid === false
    ? { display: true, drawOnChartArea: false, tickLength: cfg.tickLen, tickColor: '#333', tickWidth: 1 }
    : { color: '#d6d6d6', lineWidth: 1.3, tickLength: cfg.tickLen, tickColor: '#333', tickWidth: 1.2 };
  const border = cfg.grid === false ? { display: false } : { display: false, dash: [5, 4] };
  return {
    responsive: false, animation: false, events: [],
    layout: { padding: cfg.pad },
    plugins: { legend: { display: false }, tooltip: { enabled: false }, framePlugin: { color: cfg.frame, width: cfg.frameWidth } },
    scales: {
      x: {
        type: 'linear', min: cfg.x[0], max: cfg.x[1], grid: grid, border: border,
        afterBuildTicks: fixedTicks(cfg.xTicks),
        afterFit: s => { s.height = cfg.xHeight; },
        ticks: { font: tickFont, color: '#222', maxRotation: 0, autoSkip: false, padding: cfg.tickPad, callback: minusFmt }
      },
      y: {
        type: 'linear', min: cfg.y[0], max: cfg.y[1], grid: grid, border: border,
        afterBuildTicks: fixedTicks(cfg.yTicks),
        afterFit: s => { s.width = cfg.yWidth; },
        ticks: { font: tickFont, color: '#222', minRotation: 90, maxRotation: 90, autoSkip: false, crossAlign: 'center', padding: cfg.tickPadY, callback: minusFmt }
      }
    }
  };
}

function cluster(rows, fill) {
  return {
    data: rows.map(r => ({ x: r[0], y: r[1] })),
    showLine: false, pointRadius: 4.7, pointBorderWidth: .8,
    pointBackgroundColor: fill, pointBorderColor: 'rgba(140,140,140,.35)',
    arrows: rows, arrowStyle: thinHead
  };
}
function openDots(rows) {
  return { data: toXY(rows), showLine: false, pointRadius: 4.2, pointBorderWidth: .7, pointBackgroundColor: 'rgba(255,255,255,.5)', pointBorderColor: '#bbb' };
}

const cBlue = 'rgba(55,130,245,.88)', cRed = 'rgba(245,40,50,.8)', cGreen = 'rgba(45,235,125,.85)',
  cYellow = 'rgba(205,240,30,.85)', cPurple = 'rgba(210,45,240,.85)', cNavy = 'rgba(50,60,190,.95)';

// e : structure-based vs gene-relative
new Chart(addCanvas(850, 18, 187, 187), {
  type: 'scatter',
  data: { datasets: [
    { data: [{ x: -4.3, y: -4.3 }, { x: 4.32, y: 4.32 }], showLine: true, pointRadius: 0, borderColor: '#222', borderWidth: .9, order: 0 },
    { data: pairsToXY(eIncreasing.concat(eIncreasingWide)), pointRadius: 2.8, pointBorderWidth: 1.1, pointBackgroundColor: 'transparent', pointBorderColor: 'rgba(0,250,0,.7)', order: 1 },
    { data: pairsToXY(eDecreasing.concat(eDecreasingCore)), pointRadius: 2.8, pointBorderWidth: 1, pointBackgroundColor: 'transparent', pointBorderColor: 'rgba(20,20,245,.68)', order: 2 },
    { data: pairsToXY(eOther), pointRadius: .9, pointBorderWidth: 0, pointBackgroundColor: 'rgba(90,90,90,.6)', order: 3 }
  ] },
  plugins: [framePlugin],
  options: plotOptions({
    pad: { top: 9.7, right: 9.7 }, x: [-5.42, 5.395], y: [-4.3, 4.32], xTicks: eXTicks, yTicks: eYTicks,
    xHeight: 35, yWidth: 35, tickSize: 10.5, tickLen: 6, tickPad: 4, tickPadY: 1, frame: '#333', frameWidth: 1, grid: false
  })
});

new Chart(addCanvas(0, 250, 515, 390), {
  type: 'scatter',
  data: { datasets: [openDots(fOpen), cluster(fDarkBlue, cNavy), cluster(fRed.concat(fRedCore), cRed), cluster(fYellow, cYellow), cluster(fPurple, cPurple), cluster(fBlue.concat(fBlueCore), cBlue), cluster(fGreen.concat(fGreenCore), cGreen)] },
  plugins: [arrowPlugin, framePlugin],
  options: plotOptions({
    pad: { top: 9.5, right: 12.3 }, x: [-34.5, 36.76], y: [-33.23, 27.63], xTicks: fXTicks, yTicks: fYTicks,
    xHeight: 32, yWidth: 54.5, tickSize: 14, tickLen: 9, tickPad: 6, tickPadY: -2.5, frame: '#222', frameWidth: 1.7
  })
});

new Chart(addCanvas(530, 250, 527, 390), {
  type: 'scatter',
  data: { datasets: [openDots(gOpen), cluster(gYellow.concat(gYellowCore), cYellow), cluster(gPurple, cPurple), cluster(gRed.concat(gRedCore), cRed), cluster(gGreen.concat(gGreenCore), cGreen), cluster(gBlue, cBlue)] },
  plugins: [arrowPlugin, framePlugin],
  options: plotOptions({
    pad: { top: 9.5, right: 14.3 }, x: [-33.15, 28.27], y: [-20.79, 16.93], xTicks: gXTicks, yTicks: gYTicks,
    xHeight: 32, yWidth: 64.3, tickSize: 14, tickLen: 9, tickPad: 6, tickPadY: -2.5, frame: '#222', frameWidth: 1.7
  })
});

// e legend sits on top of the points
const eLegend = document.createElement('div');
eLegend.style.cssText = 'position:absolute;left:952px;top:136px;width:75px;height:34px;box-sizing:border-box;border:1px solid #111;background:#fff;z-index:4';
page.appendChild(eLegend);
[[144.7, 'rgba(20,20,245,.75)'], [157.3, 'rgba(0,240,0,.8)']].forEach(m => {
  const d = document.createElement('div');
  d.style.cssText = 'position:absolute;left:957px;width:6px;height:6px;border-radius:50%;box-sizing:border-box;z-index:5;border:1px solid ' + m[1] + ';top:' + (m[0] - 3) + 'px';
  page.appendChild(d);
});

const sans = '"Liberation Sans", Arial, sans-serif';
const letter = { bold: true };
label('a', 16, 17, 20, letter);
label('b', 246, 16, 20, letter);
label('c', 478, 17, 20, letter);
label('d', 627, 16, 20, letter);
label('e', 850, 18, 20, letter);
label('f', 18, 247, 21, { font: sans, bold: true });
label('g', 555, 244, 21, { font: sans, bold: true });

label('late up-regulated gene', 128, 26, 14.5, { bold: true });
label('early down-regulated gene', 357, 26, 14.5, { bold: true });
label('actual fit', 86, 53, 14.5);
label('true steady', 215, 48, 14, { align: 'right', color: '#808080' });
label('state', 215, 65, 14, { align: 'right', color: '#808080' });
label('true steady', 444, 48, 14, { align: 'right', color: '#808080' });
label('state', 444, 65, 14, { align: 'right', color: '#808080' });
label('actual fit', 397, 139, 14.5);
const uTitle = 'unspliced (<i style="font-family:\'Liberation Serif\';font-size:100%">u</i>)';
const sTitle = 'spliced (<i style="font-family:\'Liberation Serif\';font-size:100%">s</i>)';
label(uTitle, 25, 113, 14.5, { rot: -90 });
label(uTitle, 245, 113, 14.5, { rot: -90 });
label(sTitle, 98, 200, 14.5);
label(sTitle, 320, 200, 14.5);

label('gene structure', 535, 44, 14.2);
label('predict', 528, 83, 14.2);
label('k correlated', 533, 172, 14.2);
label('genes (kNN)', 533, 191, 14.2);

label('target gene g<sub>i</sub>', 672, 38, 14.2, { align: 'left' });
label('adjusted g<sub>i</sub>', 672, 55, 14.2, { align: 'left' });
label('kNN genes', 672, 75, 14.2, { align: 'left' });
label('kNN', 785, 63, 14.2, { align: 'left' });
label('M value', 785, 80, 14.2, { align: 'left' });
label('log[ observed ]', 631, 124, 14, { rot: -90 });
label('log[ predicted steady-state ]', 725, 199, 14.5);

label('structure-based', 858, 98, 14.5, { rot: -90 });
label('gene-relative', 958, 200, 14.5);
label('decreasing', 970, 145, 10.5, { font: sans, align: 'left' });
label('increasing', 970, 158, 10.5, { font: sans, align: 'left' });

label('PC1 vs. PC2', 279, 239, 17.5, { font: sans, bold: true });
label('PC2 vs. PC3', 818, 239, 17.5, { font: sans, bold: true });
label('PC1: chromaffin differentiation', 271, 655, 17.6, { font: sans });
label('PC2: sympathoblasts', 827, 655, 17.6, { font: sans });
label('PC2: sympathoblasts', 11, 415, 17.6, { font: sans, rot: -90 });
label('PC3: bridge state', 548, 431, 17.6, { font: sans, rot: -90 });
label('CSDN @生信小鹏', 977, 660, 16.5, { font: '"Noto Sans CJK SC", sans-serif', color: 'rgba(120,120,120,.6)' });
</script>
</body>
</html>
